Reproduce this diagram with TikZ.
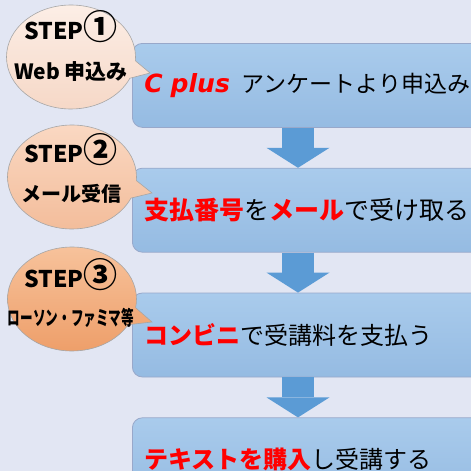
\documentclass[tikz,border=0pt]{standalone}
\usepackage{fontspec}
\setmainfont{Noto Sans CJK JP}
\newfontfamily\latinsans{DejaVu Sans}
\usepackage{graphicx}
\usetikzlibrary{positioning,shapes.callouts,arrows.meta}
\definecolor{pagebg}{HTML}{E2E6F3}
\definecolor{boxtop}{HTML}{A9CBEC}
\definecolor{boxbot}{HTML}{95BBE2}
\definecolor{boxline}{HTML}{98A8CA}
\definecolor{arrowblue}{HTML}{5B9BD5}
\definecolor{hlred}{HTML}{FF0000}
\definecolor{peachatop}{HTML}{FCEEE6}
\definecolor{peachabot}{HTML}{F6D8C7}
\definecolor{peachbtop}{HTML}{FAD8C2}
\definecolor{peachbbot}{HTML}{F3BD9B}
\definecolor{peachctop}{HTML}{F7C29B}
\definecolor{peachcbot}{HTML}{EE9F6A}
\newcommand\redpart[1]{{\bfseries\color{hlred}#1}}
\newcommand\bigdigit[1]{{\fontsize{34}{34}\selectfont #1}}
\begin{document}
\begin{tikzpicture}[x=1pt, y=-1pt,
    flowbox/.style={draw=boxline, line width=0.8pt, rounded corners=10pt,
      top color=boxtop, bottom color=boxbot, minimum height=84pt,
      text width=340pt, inner xsep=12pt, align=left,
      font=\fontsize{24}{28}\selectfont},
    flowarrow/.style={draw=arrowblue, line width=32pt,
      -{Triangle[width=63pt, length=20pt, line width=0pt]}},
    bubble/.style={ellipse callout, callout pointer arc=20, draw=gray!70,
      line width=0.6pt, minimum width=129pt, minimum height=104pt},
    steplabel/.style={inner sep=0pt, font=\bfseries\fontsize{23}{28}\selectfont},
    steptext/.style={inner sep=0pt, font=\bfseries\fontsize{20}{24}\selectfont}]
  \useasboundingbox (0,0) rectangle (471,471);
  \clip (0,0) rectangle (471,471);
  \fill[pagebg] (0,0) rectangle (471,471);

  % flow boxes
  \node[flowbox, anchor=north west] (b1) at (132,43)
    {{\fontsize{23}{27}\selectfont{\latinsans\fontsize{25}{27}\selectfont\bfseries\itshape\color{hlred}C plus}\, アンケートより申込み}};
  \node[flowbox, below=40pt of b1, font=\fontsize{25}{28}\selectfont] (b2)
    {\redpart{支払番号}を\redpart{メール}で受け取る};
  \node[flowbox, below=40pt of b2] (b3) {\redpart{コンビニ}で受講料を支払う};
  \node[flowbox, below=40pt of b3] (b4) {\redpart{テキストを購入}し受講する};

  % arrows
  \coordinate (ax) at (298,0);
  \draw[flowarrow] (b1.south -| ax) -- (b2.north -| ax);
  \draw[flowarrow] (b2.south -| ax) -- (b3.north -| ax);
  \draw[flowarrow] (b3.south -| ax) -- (b4.north -| ax);

  % speech bubbles
  \node[bubble, top color=peachatop, bottom color=peachabot,
    callout absolute pointer={(150,73)}] (c1) at (71,57) {};
  \node[bubble, top color=peachbtop, bottom color=peachbbot,
    callout absolute pointer={(152,193)}] (c2) at (72,177) {};
  \node[bubble, top color=peachctop, bottom color=peachcbot,
    callout absolute pointer={(152,322)}] (c3) at (72,299) {};

  \node[steplabel, anchor=base west] (s1) at (24,39) {STEP\bigdigit{①}};
  \node[steptext, font=\bfseries\fontsize{21}{24}\selectfont] (w1) at (71,72) {Web 申込み};
  \node[steplabel, anchor=base west] (s2) at (24,162) {STEP\bigdigit{②}};
  \node[steptext] (w2) at (71,194) {メール受信};
  \node[steplabel, anchor=base west] (s3) at (24,287) {STEP\bigdigit{③}};
  \node[steptext] (w3) at (71,318) {\scalebox{0.63}[1]{ローソン・ファミマ等}};
\end{tikzpicture}
\end{document}
